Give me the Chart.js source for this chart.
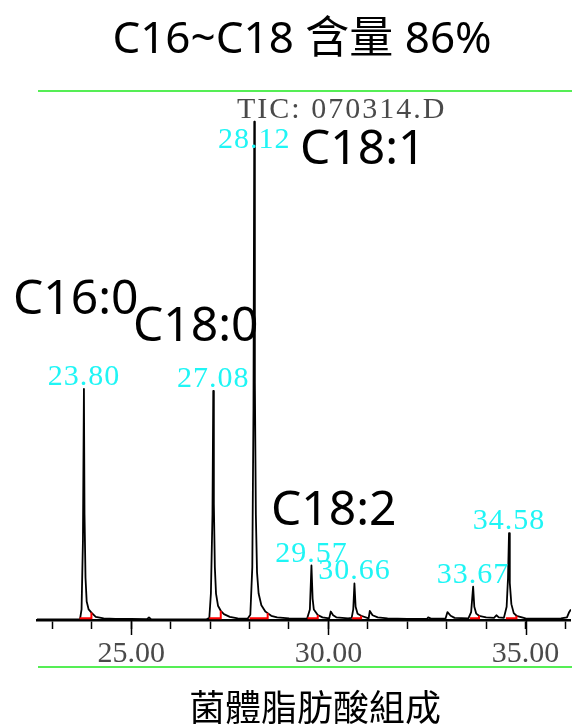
<!DOCTYPE html>
<html>
<head>
<meta charset="utf-8">
<script src="https://cdn.jsdelivr.net/npm/chart.js@4.4.1/dist/chart.umd.min.js"></script>
<style>
  html, body { margin: 0; padding: 0; background: #fff; }
</style>
</head>
<body>
<canvas id="myChart" width="572" height="725"></canvas>
<script>
// retention time (min) and relative abundance of the TIC trace
const traceTime = [22.61, 23.70, 23.74, 23.775, 23.80, 23.815, 23.84, 23.87, 23.92, 23.99, 24.10, 24.30, 24.60, 25.00, 25.40, 25.45, 25.50, 26.00,
  26.90, 26.98, 27.02, 27.06, 27.08, 27.095, 27.12, 27.15, 27.20, 27.27, 27.35, 27.50, 27.70, 27.95,
  28.02, 28.07, 28.10, 28.12, 28.135, 28.16, 28.19, 28.23, 28.30, 28.40, 28.46, 28.55, 28.70, 29.00, 29.30,
  29.46, 29.53, 29.57, 29.60, 29.63, 29.73, 29.85, 30.02, 30.06, 30.12, 30.20, 30.50,
  30.59, 30.63, 30.66, 30.69, 30.74, 30.83, 31.02, 31.05, 31.12, 31.25, 31.50, 32.00, 32.50, 32.53, 32.60,
  32.97, 33.02, 33.10, 33.20, 33.55, 33.62, 33.67, 33.70, 33.75, 33.82, 34.00, 34.20, 34.26, 34.32, 34.45,
  34.52, 34.555, 34.58, 34.60, 34.64, 34.70, 34.77, 35.00, 35.50, 35.90, 36.05, 36.10, 36.15];
const traceValue = [0.1, 0.1, 2, 15, 43.7, 20, 8, 3.5, 2.0, 1.4, 0.6, 0.3, 0.2, 0.2, 0.15, 0.5, 0.15, 0.1,
  0.1, 0.4, 5, 20, 43.3, 22, 10, 5, 2.7, 1.75, 1.1, 0.6, 0.3, 0.25,
  1, 10, 40, 94.2, 45, 20, 9, 5, 2.8, 1.6, 1.3, 0.8, 0.5, 0.3, 0.25,
  0.3, 2, 10.3, 4, 2, 0.95, 0.5, 0.3, 1.6, 0.9, 0.5, 0.3,
  0.4, 2, 6.9, 2.5, 1.2, 0.8, 0.3, 1.7, 0.9, 0.5, 0.3, 0.2, 0.2, 0.5, 0.25,
  0.3, 1.5, 0.8, 0.4, 0.3, 1.5, 6.3, 2.5, 1.2, 0.8, 0.5, 0.4, 0.9, 0.5, 0.4,
  2.5, 8, 16.4, 7, 3, 1.3, 0.8, 0.3, 0.25, 0.3, 0.5, 1.4, 2];

// labelled peaks and their integration limits
const peakTimes = [23.80, 27.08, 28.12, 29.57, 30.66, 33.67, 34.58];
const peakLabels = ['23.80', '27.08', '28.12', '29.57', '30.66', '33.67', '34.58'];
const peakHeights = [43.7, 43.3, 94.2, 10.3, 6.9, 6.3, 16.4];
const intStart = [23.69, 26.98, 28.00, 29.47, 30.60, 33.59, 34.50];
const intEnd = [23.99, 27.27, 28.46, 29.73, 30.83, 33.82, 34.77];
const intEndHeight = [1.4, 1.75, 1.3, 0.95, 0.8, 0.8, 0.8];

// x axis
const xMin = 22.61;
const xMax = 36.15;
const majorTicks = [25, 30, 35];

// annotations
const titleText = 'C16~C18 含量 86%';
const footText = '菌體脂肪酸組成';
const ticText = 'TIC: 070314.D';
const acidNames = ['C16:0', 'C18:0', 'C18:1', 'C18:2'];
const acidPos = [[13, 314], [133, 341], [300, 164], [271, 525]];

const trace = traceTime.map((t, i) => ({ x: t, y: traceValue[i] }));
const integ = [];
intStart.forEach((s, i) => {
  integ.push({ x: s, y: 0.35 }, { x: intEnd[i], y: 0.35 }, { x: intEnd[i], y: intEndHeight[i] }, { x: intEnd[i], y: null });
});

const decor = {
  id: 'decor',
  beforeDraw(chart) {
    const ctx = chart.ctx;
    ctx.save();
    ctx.fillStyle = '#fff';
    ctx.fillRect(0, 0, chart.width, chart.height);
    ctx.restore();
  },
  afterDraw(chart) {
    const ctx = chart.ctx;
    const x = chart.scales.x, y = chart.scales.y;
    const area = chart.chartArea;
    ctx.save();

    // longer marks for the labelled ticks
    ctx.strokeStyle = '#000';
    ctx.lineWidth = 1.5;
    majorTicks.forEach(v => {
      const px = Math.round(x.getPixelForValue(v)) + 0.5;
      ctx.beginPath();
      ctx.moveTo(px, area.bottom);
      ctx.lineTo(px, area.bottom + 15);
      ctx.stroke();
    });

    // green frame lines
    ctx.strokeStyle = '#55ee55';
    ctx.lineWidth = 2;
    [91, 667].forEach(py => {
      ctx.beginPath();
      ctx.moveTo(38, py);
      ctx.lineTo(572, py);
      ctx.stroke();
    });

    // peak retention time labels
    ctx.font = '30px "Liberation Serif"';
    ctx.fillStyle = '#1ff5f5';
    ctx.textAlign = 'center';
    ctx.textBaseline = 'alphabetic';
    ctx.letterSpacing = '1px';
    peakTimes.forEach((t, i) => {
      const px = x.getPixelForValue(t);
      let py = y.getPixelForValue(peakHeights[i]) - 4;
      if (py < 148) py = 148;
      ctx.fillText(peakLabels[i], px, py);
    });

    // TIC header
    ctx.fillStyle = '#4a4a4a';
    ctx.textAlign = 'left';
    ctx.letterSpacing = '2px';
    ctx.fillText(ticText, 237, 118);
    ctx.letterSpacing = '0px';

    // fatty acid names
    ctx.fillStyle = '#000';
    ctx.font = '48px "Noto Sans"';
    acidNames.forEach((n, i) => ctx.fillText(n, acidPos[i][0], acidPos[i][1]));

    // title and caption
    ctx.textAlign = 'center';
    ctx.font = '44px "Noto Sans", "Noto Sans CJK TC"';
    ctx.fillText(titleText, 302, 53);
    ctx.font = '36px "Noto Sans CJK TC"';
    ctx.textBaseline = 'middle';
    ctx.fillText(footText, 315, 707);
    ctx.restore();
  }
};

new Chart(document.getElementById('myChart').getContext('2d'), {
  type: 'line',
  data: {
    datasets: [
      {
        label: 'integration',
        data: integ,
        borderColor: '#ff0000',
        borderWidth: 2,
        pointRadius: 0,
        spanGaps: false,
        tension: 0
      },
      {
        label: 'TIC',
        data: trace,
        borderColor: '#000',
        borderWidth: 1.8,
        borderJoinStyle: 'round',
        pointRadius: 0,
        tension: 0
      }
    ]
  },
  options: {
    responsive: false,
    animation: false,
    layout: { padding: { left: 37, right: 0, top: 91, bottom: 58 } },
    plugins: { legend: { display: false }, tooltip: { enabled: false } },
    scales: {
      x: {
        type: 'linear',
        min: xMin,
        max: xMax,
        afterFit: s => { s.height = 47; },
        border: { display: true, color: '#000', width: 2.5 },
        grid: { drawOnChartArea: false, drawTicks: true, tickLength: 9, tickColor: '#000', tickWidth: 1.5 },
        ticks: {
          stepSize: 1,
          includeBounds: false,
          autoSkip: false,
          maxRotation: 0,
          padding: 7,
          color: '#4a4a4a',
          font: { family: 'Liberation Serif', size: 30 },
          callback: v => (v % 5 === 0 ? v.toFixed(2) : '')
        }
      },
      y: { display: false, min: 0, max: 100 }
    }
  },
  plugins: [decor]
});
</script>
</body>
</html>
